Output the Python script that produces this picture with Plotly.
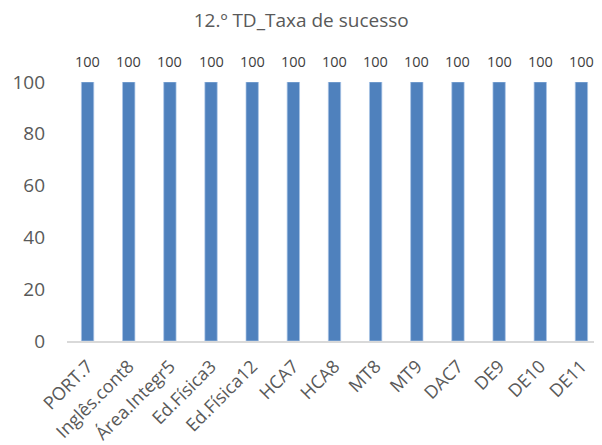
import plotly.graph_objects as go

categories = ["PORT.7", "Inglês.cont8", "Área.Integr5", "Ed.Física3", "Ed.Física12",
              "HCA7", "HCA8", "MT8", "MT9", "DAC7", "DE9", "DE10", "DE11"]
values = [100, 100, 100, 100, 100, 100, 100, 100, 100, 100, 100, 100, 100]

fig = go.Figure(go.Bar(
    x=categories, y=values,
    marker=dict(color="#4F81BD", line=dict(color="#A9C4E6", width=0.7)),
    width=0.3,
    cliponaxis=False,
))

for c, v in zip(categories, values):
    fig.add_annotation(x=c, y=v, text=str(v), showarrow=False,
                       yanchor="middle", yshift=21,
                       font=dict(size=14.5, color="#404040"))

fig.update_layout(
    width=602, height=445,
    margin=dict(l=59, r=8, t=74, b=112),
    paper_bgcolor="white", plot_bgcolor="white",
    font=dict(family="Open Sans, Liberation Sans, sans-serif", color="#595959"),
    title=dict(text="12.º TD_Taxa de sucesso", x=0.487, xanchor="center",
               y=1 - 12 / 445, yanchor="middle",
               font=dict(size=19, color="#595959")),
    showlegend=False,
)
fig.update_xaxes(
    range=[-0.5, 12.5], tickangle=-45, tickfont=dict(size=18, color="#595959"),
    showline=True, linecolor="#D9D9D9", linewidth=1.5, showgrid=False, ticks="",
    ticklabelstandoff=6, automargin=False,
)
fig.update_yaxes(
    range=[0, 100], tickvals=[0, 20, 40, 60, 80, 100],
    tickfont=dict(size=19, color="#595959"), showgrid=False, zeroline=False,
    showline=False, ticklabelstandoff=21, automargin=False,
)

fig.write_html("out.html")
